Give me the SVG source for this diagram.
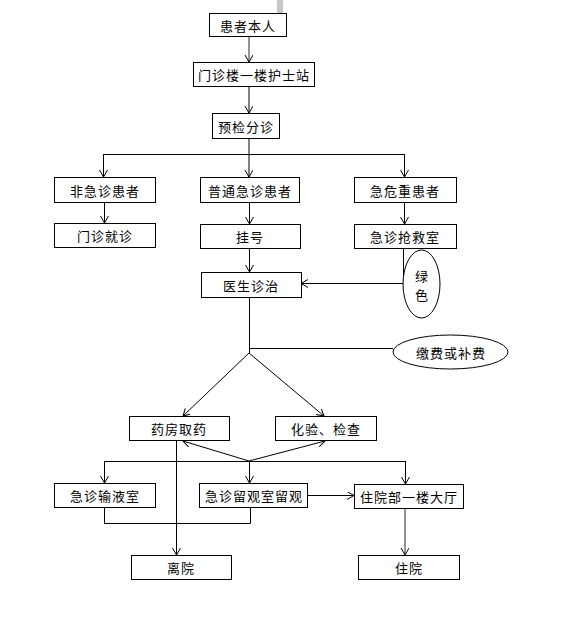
<svg xmlns="http://www.w3.org/2000/svg" width="569" height="640" viewBox="0 0 569 640">
<style>
.box{fill:#fff;stroke:#000;stroke-width:1}
.t{font-family:"Noto Sans CJK SC","Liberation Sans",sans-serif;font-size:13px;fill:#000;text-anchor:middle;dominant-baseline:central;letter-spacing:1px}
.c{fill:none;stroke:#000;stroke-width:1}
.g{fill:none;stroke:#666;stroke-width:1.4}
.a{marker-end:url(#arr)}
</style>
<defs>
<marker id="arr" markerUnits="userSpaceOnUse" markerWidth="10" markerHeight="10" refX="7" refY="4" orient="auto">
<path d="M0,0 L7,4 L0,8" fill="none" stroke="#000" stroke-width="1"/>
</marker>
</defs>
<rect width="569" height="640" fill="#fff"/>
<rect x="277" y="0" width="6" height="13" fill="#c8c8c8"/>
<g id="connectors">
<path class="g a" d="M249,36V62"/>
<path class="c a" d="M249,86V113"/>
<path class="c a" d="M249,138V177"/>
<path class="c" d="M103.5,154.5H404.5"/>
<path class="c a" d="M103.5,154V177"/>
<path class="c a" d="M404.5,154V177"/>
<path class="c a" d="M104.5,202V223"/>
<path class="c a" d="M249.5,202V224"/>
<path class="c a" d="M404.5,202V224"/>
<path class="c a" d="M249.5,248V272"/>
<path class="c a" d="M403.5,248V283.5H301"/>
<path class="c" d="M249.5,297V353"/>
<path class="c" d="M249,348.5H393"/>
<path class="c a" d="M249,353L183,416"/>
<path class="c a" d="M249,353L324,416"/>
<path class="c a" d="M249,461L183,441"/>
<path class="c a" d="M249,461L325,441"/>
<path class="c" d="M104,461.5H405"/>
<path class="c a" d="M249.5,461V483"/>
<path class="c a" d="M104.5,461V483"/>
<path class="c a" d="M405.5,461V484"/>
<path class="c a" d="M176.5,441V555"/>
<path class="c" d="M104.5,508V523.5H250.5V507"/>
<path class="c a" d="M307,495.5H354"/>
<path class="g a" d="M405,508V555"/>
</g>
<g id="n1"><rect class="box" x="209.5" y="13.5" width="77" height="23"/><text class="t" x="248" y="25">患者本人</text></g>
<g id="n2"><rect class="box" x="193.5" y="62.5" width="121" height="24"/><text class="t" x="254" y="74.5">门诊楼一楼护士站</text></g>
<g id="n3"><rect class="box" x="212.5" y="113.5" width="67" height="25"/><text class="t" x="246" y="126">预检分诊</text></g>
<g id="n4"><rect class="box" x="54.5" y="177.5" width="101" height="25"/><text class="t" x="105" y="190">非急诊患者</text></g>
<g id="n5"><rect class="box" x="200.5" y="177.5" width="99" height="25"/><text class="t" x="250" y="190">普通急诊患者</text></g>
<g id="n6"><rect class="box" x="354.5" y="177.5" width="102" height="25"/><text class="t" x="405" y="190">急危重患者</text></g>
<g id="n7"><rect class="box" x="54.5" y="223.5" width="101" height="24"/><text class="t" x="105" y="235.5">门诊就诊</text></g>
<g id="n8"><rect class="box" x="200.5" y="224.5" width="100" height="24"/><text class="t" x="250" y="236.5">挂号</text></g>
<g id="n9"><rect class="box" x="354.5" y="224.5" width="102" height="24"/><text class="t" x="405" y="236.5">急诊抢救室</text></g>
<g id="n10"><ellipse class="box" cx="421.5" cy="284" rx="18.5" ry="34"/><text class="t" x="422" y="275">绿</text><text class="t" x="422" y="294">色</text></g>
<g id="n11"><rect class="box" x="201.5" y="272.5" width="100" height="25"/><text class="t" x="251" y="285">医生诊治</text></g>
<g id="n12"><ellipse class="box" cx="450.5" cy="352" rx="57.5" ry="17"/><text class="t" x="451" y="352">缴费或补费</text></g>
<g id="n13"><rect class="box" x="129.5" y="416.5" width="100" height="24"/><text class="t" x="179" y="428.5">药房取药</text></g>
<g id="n14"><rect class="box" x="275.5" y="416.5" width="101" height="24"/><text class="t" x="326" y="428.5">化验、检查</text></g>
<g id="n15"><rect class="box" x="54.5" y="483.5" width="101" height="24"/><text class="t" x="105" y="495.5">急诊输液室</text></g>
<g id="n16"><rect class="box" x="199.5" y="483.5" width="108" height="24"/><text class="t" x="254" y="495.5">急诊留观室留观</text></g>
<g id="n17"><rect class="box" x="354.5" y="484.5" width="109" height="24"/><text class="t" x="409" y="496.5">住院部一楼大厅</text></g>
<g id="n18"><rect class="box" x="131.5" y="555.5" width="100" height="24"/><text class="t" x="181" y="567.5">离院</text></g>
<g id="n19"><rect class="box" x="358.5" y="555.5" width="101" height="24"/><text class="t" x="409" y="567.5">住院</text></g>
</svg>
